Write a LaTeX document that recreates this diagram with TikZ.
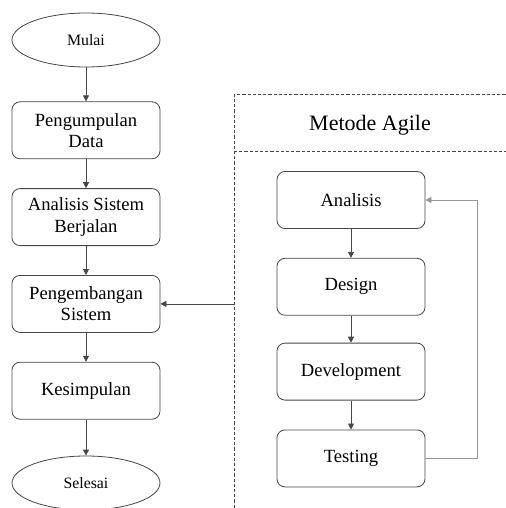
\documentclass[tikz,border=0pt]{standalone}
\usepackage{fontspec}
\setmainfont{Liberation Serif}
\usepackage{xcolor}
\usetikzlibrary{arrows.meta,positioning,shapes.geometric,calc}
\definecolor{edgegray}{RGB}{70,70,70}
\definecolor{loopgray}{RGB}{150,150,150}

\begin{document}
\begin{tikzpicture}[
  node distance=14.5pt, font=\fontsize{9.3}{10.6}\selectfont,
  procbox/.style={draw=edgegray, rounded corners=4pt, align=center,
               minimum width=74pt, minimum height=28.5pt, inner sep=2pt},
  terminal/.style={draw=edgegray, ellipse, minimum width=74pt,
               minimum height=27pt, inner sep=1pt, font=\fontsize{7.9}{9}\selectfont},
  arr/.style={-{Triangle[length=3pt,width=3pt]}, edgegray, line width=0.4pt},
  frame/.style={edgegray, line width=0.5pt, dash pattern=on 1.6pt off 1pt}
]
\useasboundingbox (-43pt,20pt) rectangle (210pt,-234pt);
\clip (-43pt,20pt) rectangle (210pt,-234pt);
% main flow
\node[terminal] (mulai) at (0,0) {Mulai};
\node[procbox,below=17pt of mulai] (kumpul) {Pengumpulan\\ Data};
\node[procbox,below=of kumpul] (anasis) {Analisis Sistem\\ Berjalan};
\node[procbox,below=of anasis] (kembang) {Pengembangan\\ Sistem};
\node[procbox,below=of kembang] (simpul) {Kesimpulan};
\node[terminal,below=18pt of simpul] (selesai) {Selesai};
% agile block
\node[font=\fontsize{11}{13}\selectfont] (judul) at (142pt,-42.5pt) {Metode Agile};
\node[procbox] (ana) at (132.5pt,-80pt) {Analisis};
\node[procbox,below=of ana] (des) {Design};
\node[procbox,below=13.5pt of des] (dev) {Development};
\node[procbox,below=of dev] (tes) {Testing};
\coordinate (fl) at (74pt,0 |- kembang);
\coordinate (lp) at (195.5pt,-80pt);
\draw[frame] (215pt,-27.5pt) -- (74pt,-27.5pt) -- (74pt,-240pt);
\draw[frame] (74pt,-56pt) -- (215pt,-56pt);
\draw[arr] (mulai) -- (kumpul);
\draw[arr] (kumpul) -- (anasis);
\draw[arr] (anasis) -- (kembang);
\draw[arr] (kembang) -- (simpul);
\draw[arr] (simpul) -- (selesai);
\draw[arr] (fl) -- (kembang);
\draw[arr] (ana) -- (des);
\draw[arr] (des) -- (dev);
\draw[arr] (dev) -- (tes);
\draw[arr,draw=loopgray] (tes.east) -| (lp) -- (ana.east);
\end{tikzpicture}
\end{document}
